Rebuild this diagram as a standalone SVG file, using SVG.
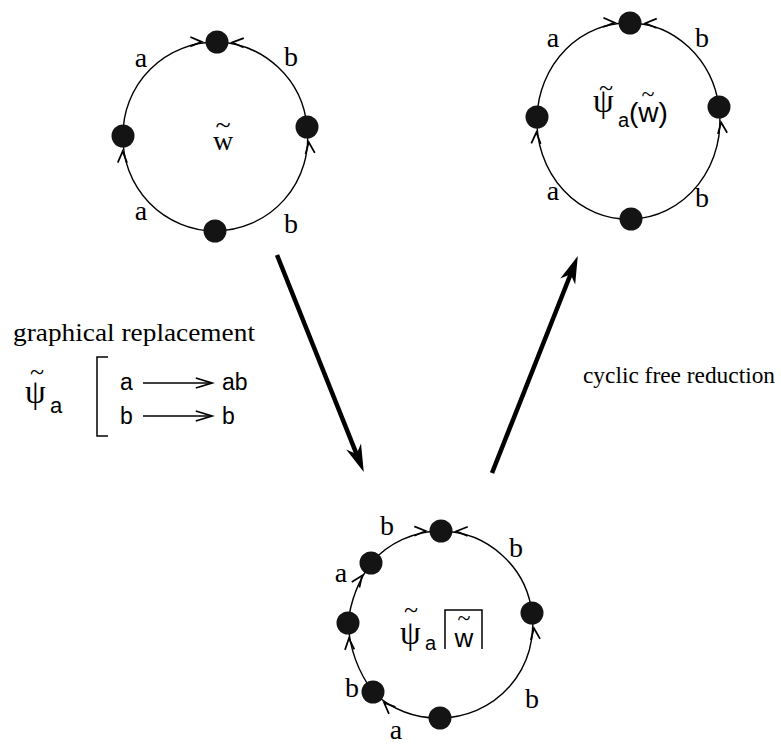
<svg xmlns="http://www.w3.org/2000/svg" width="781" height="745" viewBox="0 0 781 745">
<style>
.edge{fill:none;stroke:#000;stroke-width:1.4}
.node{fill:#141414}
.big{fill:none;stroke:#000;stroke-width:4.5}
.lbl{font-family:"Liberation Serif","Times New Roman",serif;font-size:28px;fill:#000;text-anchor:middle}
.ser{font-family:"Liberation Serif","Times New Roman",serif;fill:#000}
.sans{font-family:"Liberation Sans",Arial,sans-serif;fill:#000}
.thin{fill:none;stroke:#000;stroke-width:1.5}
</style>
<defs>
<marker id="vh" markerUnits="userSpaceOnUse" markerWidth="40" markerHeight="40" viewBox="-25 -10 30 20" refX="0" refY="0" orient="auto" overflow="visible">
<path d="M-20,-3.5 L-11.5,0 L-20,3.5" fill="none" stroke="#000" stroke-width="1.3"/>
</marker>
<marker id="bh" markerUnits="userSpaceOnUse" markerWidth="40" markerHeight="40" viewBox="-15 -10 35 20" refX="0" refY="0" orient="auto" overflow="visible">
<path d="M15,0 L-9,-7 L-2,0 L-9,7 Z" fill="#000"/>
</marker>
<marker id="sh" markerUnits="userSpaceOnUse" markerWidth="20" markerHeight="20" viewBox="-14 -6 16 12" refX="0" refY="0" orient="auto" overflow="visible">
<path d="M-13,-4 L0,0 L-13,4" fill="none" stroke="#000" stroke-width="1.4"/>
</marker>
</defs>

<g id="connectors">
<path class="edge" d="M215,231 A93,93 0 0 1 123,136" marker-end="url(#vh)"/>
<path class="edge" d="M123,136 A93,93 0 0 1 217,42" marker-end="url(#vh)"/>
<path class="edge" d="M215,231 A93,93 0 0 0 307,127" marker-end="url(#vh)"/>
<path class="edge" d="M307,127 A93,93 0 0 0 217,42" marker-end="url(#vh)"/>
<path class="edge" d="M631,219 A91,98 0 0 1 537,117" marker-end="url(#vh)"/>
<path class="edge" d="M537,117 A91,98 0 0 1 630,23" marker-end="url(#vh)"/>
<path class="edge" d="M631,219 A91,98 0 0 0 719,107" marker-end="url(#vh)"/>
<path class="edge" d="M719,107 A91,98 0 0 0 630,23" marker-end="url(#vh)"/>
<path class="edge" d="M440,718 A93,93 0 0 1 373,692" marker-end="url(#vh)"/>
<path class="edge" d="M373,692 A130,130 0 0 1 348,623" marker-end="url(#vh)"/>
<path class="edge" d="M348,623 A130,130 0 0 1 371,563" marker-end="url(#vh)"/>
<path class="edge" d="M371,563 A93,93 0 0 1 441,531" marker-end="url(#vh)"/>
<path class="edge" d="M440,718 A93,93 0 0 0 532,613" marker-end="url(#vh)"/>
<path class="edge" d="M532,613 A93,93 0 0 0 441,531" marker-end="url(#vh)"/>
<line class="big" x1="277" y1="255" x2="357.4" y2="456.1" marker-end="url(#bh)"/>
<line class="big" x1="492" y1="473" x2="571.5" y2="272" marker-end="url(#bh)"/>
<line class="thin" x1="143" y1="383" x2="212" y2="383" marker-end="url(#sh)"/>
<line class="thin" x1="143" y1="416" x2="212" y2="416" marker-end="url(#sh)"/>
</g>

<g id="node-tl-top"><circle class="node" cx="217" cy="42" r="11.5"/></g>
<g id="node-tl-left"><circle class="node" cx="123" cy="136" r="11.5"/></g>
<g id="node-tl-right"><circle class="node" cx="307" cy="127" r="11.5"/></g>
<g id="node-tl-bottom"><circle class="node" cx="215" cy="231" r="11.5"/></g>

<g id="node-tr-top"><circle class="node" cx="630" cy="23" r="11.5"/></g>
<g id="node-tr-left"><circle class="node" cx="537" cy="117" r="11.5"/></g>
<g id="node-tr-right"><circle class="node" cx="719" cy="107" r="11.5"/></g>
<g id="node-tr-bottom"><circle class="node" cx="631" cy="219" r="11.5"/></g>

<g id="node-b-top"><circle class="node" cx="441" cy="531" r="11.5"/></g>
<g id="node-b-upperleft"><circle class="node" cx="371" cy="563" r="11.5"/></g>
<g id="node-b-left"><circle class="node" cx="348" cy="623" r="11.5"/></g>
<g id="node-b-lowerleft"><circle class="node" cx="373" cy="692" r="11.5"/></g>
<g id="node-b-bottom"><circle class="node" cx="440" cy="718" r="11.5"/></g>
<g id="node-b-right"><circle class="node" cx="532" cy="613" r="11.5"/></g>

<g id="edge-labels">
<text class="lbl" x="141" y="67">a</text>
<text class="lbl" x="291" y="66">b</text>
<text class="lbl" x="141" y="220">a</text>
<text class="lbl" x="291" y="233">b</text>
<text class="lbl" x="553" y="47">a</text>
<text class="lbl" x="702" y="47">b</text>
<text class="lbl" x="553" y="200">a</text>
<text class="lbl" x="702" y="207">b</text>
<text class="lbl" x="387" y="535">b</text>
<text class="lbl" x="516" y="557">b</text>
<text class="lbl" x="341" y="582">a</text>
<text class="lbl" x="352" y="697">b</text>
<text class="lbl" x="396" y="739">a</text>
<text class="lbl" x="532" y="708">b</text>
</g>

<g id="graph-labels">
<text class="lbl" x="223" y="134">~</text>
<text class="lbl" x="223" y="150">w</text>
<text class="ser" x="606" y="96" font-size="26" text-anchor="middle">~</text>
<text class="ser" x="593" y="112" font-size="33">ψ</text>
<text class="sans" x="618" y="127" font-size="20">a</text>
<text class="sans" x="629" y="122" font-size="28">(w)</text>
<text class="ser" x="648" y="102" font-size="24" text-anchor="middle">~</text>
<text class="ser" x="411" y="618" font-size="26" text-anchor="middle">~</text>
<text class="ser" x="400" y="644" font-size="33">ψ</text>
<text class="sans" x="425" y="650" font-size="20">a</text>
<path class="thin" d="M445,649 V610 H482 V649"/>
<text class="ser" x="464" y="626" font-size="24" text-anchor="middle">~</text>
<text class="sans" x="464" y="647" font-size="26" text-anchor="middle">w</text>
</g>

<g id="replacement">
<text class="ser" x="13" y="341" font-size="26" textLength="242" lengthAdjust="spacingAndGlyphs">graphical replacement</text>
<text class="ser" x="37" y="380" font-size="26" text-anchor="middle">~</text>
<text class="ser" x="25" y="403" font-size="33">ψ</text>
<text class="sans" x="50" y="413" font-size="22">a</text>
<path class="thin" d="M108,357 H97 V436 H108"/>
<text class="sans" x="120" y="390" font-size="23">a</text>
<text class="sans" x="222" y="390" font-size="23">ab</text>
<text class="sans" x="120" y="424" font-size="23">b</text>
<text class="sans" x="222" y="424" font-size="23">b</text>
</g>

<text class="ser" x="583" y="383" font-size="24" textLength="192" lengthAdjust="spacingAndGlyphs">cyclic free reduction</text>
</svg>
